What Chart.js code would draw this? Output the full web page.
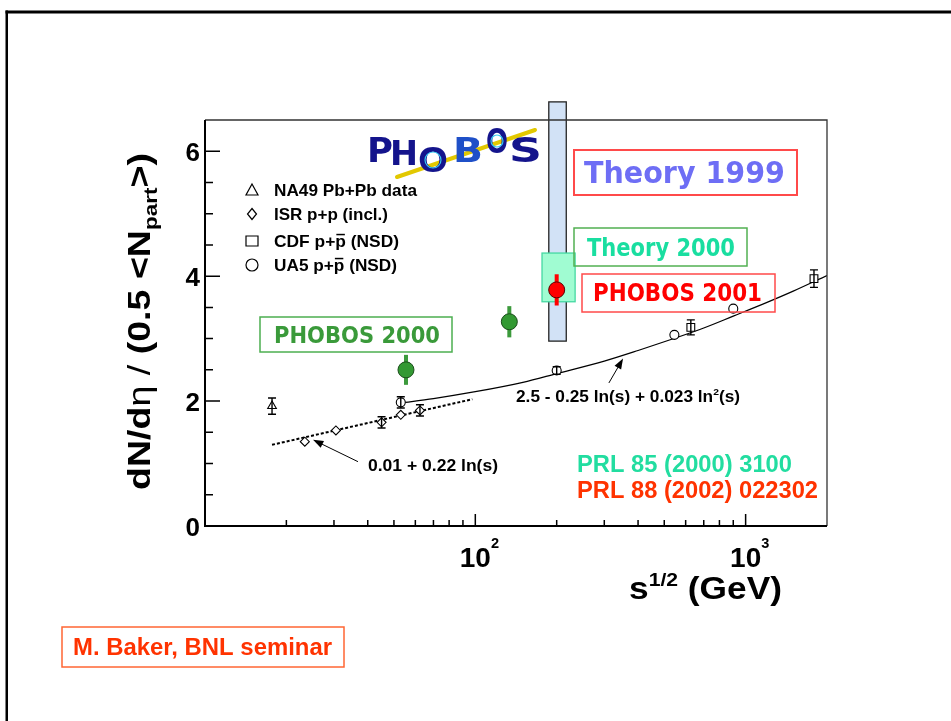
<!DOCTYPE html>
<html>
<head>
<meta charset="utf-8">
<script src="https://cdn.jsdelivr.net/npm/chart.js@4.4.1/dist/chart.umd.min.js"></script>
<style>
  html, body { margin: 0; padding: 0; background: #fff; }
  canvas { display: block; }
</style>
</head>
<body>
<canvas id="chartCanvas" width="951" height="721"></canvas>
<script>
// values (x = sqrt(s) in GeV, y = dN/deta per participant pair)
const na49X = [17.7], na49Y = [1.92], na49Err = [0.13];
const isrX = [23.4, 30.5, 45.0, 53.0, 62.4];
const isrY = [1.35, 1.53, 1.66, 1.78, 1.85];
const isrErr = [0, 0, 0.09, 0, 0.09];
const cdfX = [627, 1790], cdfY = [3.18, 3.96], cdfErr = [0.12, 0.14];
const ua5X = [53, 200, 545, 900], ua5Y = [1.98, 2.49, 3.06, 3.48], ua5Err = [0.09, 0.06, 0, 0];
const phobos2000X = [55.4, 133.6], phobos2000Y = [2.50, 3.27], phobos2000Err = [0.24, 0.25];
const phobos2001X = [200], phobos2001Y = [3.78], phobos2001Err = [0.25];

// fit curves
const fitX = [53, 70, 100, 150, 200, 300, 400, 550, 700, 900, 1200, 1500, 2000];
const fitY = [1.97, 2.04, 2.15, 2.30, 2.44, 2.64, 2.81, 3.01, 3.17, 3.36, 3.58, 3.76, 4.01];
const dotX = [17.7, 97.5], dotY = [1.30, 2.03];

// theory bands: [low, high]
const theory1999X = [187, 217], theory1999Y = [2.96, 6.79];
const theory2000X = [176.5, 234], theory2000Y = [3.59, 4.37];

// axis ticks
const yMajor = [0, 2, 4, 6];
const yMinor = [0.5, 1, 1.5, 2.5, 3, 3.5, 4.5, 5, 5.5];
const xMajor = [100, 1000], xMajorExp = ['2', '3'];
const xMinor = [20, 30, 40, 50, 60, 70, 80, 90, 200, 300, 400, 500, 600, 700, 800, 900];

const SANS = 'Arial, "Liberation Sans", sans-serif';
const VERD = '"DejaVu Sans", Verdana, sans-serif';

function pts(xs, ys) { return xs.map((x, i) => ({ x: x, y: ys[i] })); }

// draws text made of pieces (sup / sub / overline), optionally squeezed to a width
function rich(ctx, parts, x, y, o) {
  const size = o.size, fam = o.family || SANS;
  const spec = { sup: [0.6, -0.42], hi: [0.52, -0.68], sub: [0.6, 0.24] };
  let w = 0;
  const items = parts.map(p => {
    const k = p[1] || '';
    const it = { t: p[0], k: k };
    it.px = size * (spec[k] ? spec[k][0] : 1);
    it.dy = spec[k] ? spec[k][1] * size : 0;
    it.wt = k === 'thin' ? 'normal' : 'bold';
    ctx.font = it.wt + ' ' + it.px + 'px ' + fam;
    it.x0 = w;
    it.w = ctx.measureText(it.t).width;
    w += it.w;
    return it;
  });
  const sx = o.width ? o.width / w : 1;
  ctx.save();
  ctx.translate(x, y);
  if (o.rotate) ctx.rotate(o.rotate);
  ctx.scale(sx, 1);
  const off = o.align === 'center' ? -w / 2 : o.align === 'right' ? -w : 0;
  ctx.fillStyle = o.color || '#000';
  ctx.textAlign = 'left';
  ctx.textBaseline = 'alphabetic';
  items.forEach(it => {
    ctx.font = it.wt + ' ' + it.px + 'px ' + fam;
    ctx.fillText(it.t, off + it.x0, it.dy);
    if (it.k === 'bar') ctx.fillRect(off + it.x0 + 1, -size * 0.8, it.w - 2, 1.5);
  });
  ctx.restore();
}

function box(ctx, x0, y0, x1, y1, color, lw) {
  ctx.save();
  ctx.strokeStyle = color;
  ctx.lineWidth = lw || 1.5;
  ctx.strokeRect(x0, y0, x1 - x0, y1 - y0);
  ctx.restore();
}

function marker(ctx, kind, x, y) {
  ctx.save();
  ctx.strokeStyle = '#000';
  ctx.lineWidth = 1.2;
  ctx.beginPath();
  if (kind === 'tri') {
    ctx.moveTo(x, y - 6); ctx.lineTo(x + 6, y + 5); ctx.lineTo(x - 6, y + 5); ctx.closePath();
  } else if (kind === 'dia') {
    ctx.moveTo(x, y - 5.5); ctx.lineTo(x + 4.5, y); ctx.lineTo(x, y + 5.5); ctx.lineTo(x - 4.5, y); ctx.closePath();
  } else if (kind === 'sq') {
    ctx.rect(x - 6, y - 5, 12, 10);
  } else {
    ctx.arc(x, y, 6, 0, Math.PI * 2);
  }
  ctx.stroke();
  ctx.restore();
}

function errBars(chart, xs, ys, es, color, lw, cap) {
  const ctx = chart.ctx, sx = chart.scales.x, sy = chart.scales.y;
  ctx.save();
  ctx.strokeStyle = color;
  ctx.lineWidth = lw;
  xs.forEach((x, i) => {
    if (!es[i]) return;
    const px = sx.getPixelForValue(x);
    const lo = sy.getPixelForValue(ys[i] - es[i]);
    const hi = sy.getPixelForValue(ys[i] + es[i]);
    ctx.beginPath();
    ctx.moveTo(px, lo); ctx.lineTo(px, hi);
    if (cap) {
      ctx.moveTo(px - cap, lo); ctx.lineTo(px + cap, lo);
      ctx.moveTo(px - cap, hi); ctx.lineTo(px + cap, hi);
    }
    ctx.stroke();
  });
  ctx.restore();
}

function arrow(chart, from, to) {
  const ctx = chart.ctx, sx = chart.scales.x, sy = chart.scales.y;
  const x0 = sx.getPixelForValue(from[0]), y0 = sy.getPixelForValue(from[1]);
  const x1 = sx.getPixelForValue(to[0]), y1 = sy.getPixelForValue(to[1]);
  const a = Math.atan2(y1 - y0, x1 - x0);
  ctx.save();
  ctx.strokeStyle = '#000';
  ctx.fillStyle = '#000';
  ctx.lineWidth = 1;
  ctx.beginPath();
  ctx.moveTo(x0, y0);
  ctx.lineTo(x1 - 8 * Math.cos(a), y1 - 8 * Math.sin(a));
  ctx.stroke();
  ctx.beginPath();
  ctx.moveTo(x1, y1);
  ctx.lineTo(x1 - 11 * Math.cos(a - 0.35), y1 - 11 * Math.sin(a - 0.35));
  ctx.lineTo(x1 - 11 * Math.cos(a + 0.35), y1 - 11 * Math.sin(a + 0.35));
  ctx.closePath();
  ctx.fill();
  ctx.restore();
}

function logo(ctx) {
  ctx.save();
  ctx.strokeStyle = '#e2c800';
  ctx.lineWidth = 4;
  ctx.lineCap = 'round';
  ctx.beginPath();
  ctx.moveTo(397, 177); ctx.lineTo(535, 130);
  ctx.stroke();
  ctx.restore();
  // letters placed one by one, like the hand drawn logo
  const letters = [
    ['P', 367, 162, 26, '#14148c'], ['H', 390, 165, 28, '#14148c'], ['O', 418, 172, 30, '#14148c'],
    ['B', 453, 162, 30, '#1f50c8'], ['O', 486, 153, 22, '#14148c'], ['S', 509, 162, 33, '#14148c']
  ];
  letters.forEach(l => rich(ctx, [[l[0]]], l[1], l[2], { size: 34, width: l[3], family: VERD, color: l[4] }));
  ctx.save();
  ctx.strokeStyle = '#36c8f0';
  ctx.lineWidth = 1.2;
  [[433, 160, 8], [497, 141, 6]].forEach(c => {
    ctx.beginPath(); ctx.arc(c[0], c[1], c[2], 0, Math.PI * 2); ctx.stroke();
  });
  ctx.restore();
}

const deco = {
  id: 'deco',
  beforeDraw(chart) {
    const ctx = chart.ctx;
    ctx.save();
    ctx.fillStyle = '#fff';
    ctx.fillRect(0, 0, chart.width, chart.height);
    ctx.restore();
  },
  beforeDatasetsDraw(chart) {
    const ctx = chart.ctx, sx = chart.scales.x, sy = chart.scales.y;
    // Theory 1999 band (goes over the top of the frame)
    let x0 = sx.getPixelForValue(theory1999X[0]), x1 = sx.getPixelForValue(theory1999X[1]);
    let y0 = sy.getPixelForValue(theory1999Y[1]), y1 = sy.getPixelForValue(theory1999Y[0]);
    ctx.save();
    ctx.fillStyle = '#d2e2f6';
    ctx.fillRect(x0, y0, x1 - x0, y1 - y0);
    ctx.strokeStyle = '#222';
    ctx.lineWidth = 1.3;
    ctx.strokeRect(x0, y0, x1 - x0, y1 - y0);
    // Theory 2000 box
    x0 = sx.getPixelForValue(theory2000X[0]); x1 = sx.getPixelForValue(theory2000X[1]);
    y0 = sy.getPixelForValue(theory2000Y[1]); y1 = sy.getPixelForValue(theory2000Y[0]);
    ctx.fillStyle = '#a0fcd2';
    ctx.fillRect(x0, y0, x1 - x0, y1 - y0);
    ctx.strokeStyle = '#45d8a2';
    ctx.lineWidth = 1.3;
    ctx.strokeRect(x0, y0, x1 - x0, y1 - y0);
    ctx.restore();
    errBars(chart, phobos2000X, phobos2000Y, phobos2000Err, '#3c9a3c', 4, 0);
    errBars(chart, phobos2001X, phobos2001Y, phobos2001Err, '#ff0000', 4, 0);
  },
  afterDatasetsDraw(chart) {
    const ctx = chart.ctx, sx = chart.scales.x, sy = chart.scales.y;
    const a = chart.chartArea;

    errBars(chart, na49X, na49Y, na49Err, '#000', 1.4, 4);
    errBars(chart, isrX, isrY, isrErr, '#000', 1.4, 4);
    errBars(chart, cdfX, cdfY, cdfErr, '#000', 1.4, 4);
    errBars(chart, ua5X, ua5Y, ua5Err, '#000', 1.4, 4);

    // frame + axes
    ctx.save();
    ctx.strokeStyle = '#333';
    ctx.lineWidth = 1.3;
    ctx.beginPath();
    ctx.moveTo(a.left, a.top); ctx.lineTo(a.right, a.top); ctx.lineTo(a.right, a.bottom);
    ctx.stroke();
    ctx.strokeStyle = '#000';
    ctx.lineWidth = 2;
    ctx.beginPath();
    ctx.moveTo(a.left, a.top); ctx.lineTo(a.left, a.bottom); ctx.lineTo(a.right, a.bottom);
    ctx.stroke();
    ctx.lineWidth = 1.5;
    ctx.beginPath();
    yMajor.forEach(v => { const p = sy.getPixelForValue(v); ctx.moveTo(a.left, p); ctx.lineTo(a.left + 15, p); });
    yMinor.forEach(v => { const p = sy.getPixelForValue(v); ctx.moveTo(a.left, p); ctx.lineTo(a.left + 8, p); });
    xMajor.forEach(v => { const p = sx.getPixelForValue(v); ctx.moveTo(p, a.bottom); ctx.lineTo(p, a.bottom - 12); });
    xMinor.forEach(v => { const p = sx.getPixelForValue(v); ctx.moveTo(p, a.bottom); ctx.lineTo(p, a.bottom - 6); });
    ctx.stroke();
    ctx.restore();

    // tick labels
    yMajor.forEach(v => {
      rich(ctx, [[String(v)]], a.left - 5, sy.getPixelForValue(v) + 9.5, { size: 26, align: 'right' });
    });
    xMajor.forEach((v, i) => {
      ctx.font = 'bold 28px ' + SANS;
      const w = ctx.measureText('10').width;
      rich(ctx, [['10'], [xMajorExp[i], 'hi']], sx.getPixelForValue(v) - w / 2, 567, { size: 28 });
    });

    // axis titles
    rich(ctx, [['s'], ['1/2', 'sup'], [' (GeV)']], 629, 599, { size: 31, width: 153 });
    rich(ctx, [['dN/d'], ['\u03b7', 'thin'], [' / ', 'thin'], ['(0.5 <N'], ['part', 'sub'], ['>)']],
      150, 490, { size: 31, width: 337, rotate: -Math.PI / 2 });

    // legend
    const leg = [
      ['tri', [['NA49 Pb+Pb data']], 196, 143],
      ['dia', [['ISR p+p (incl.)']], 220, 114],
      ['sq', [['CDF p+'], ['p', 'bar'], [' (NSD)']], 247, 125],
      ['circ', [['UA5 p+'], ['p', 'bar'], [' (NSD)']], 271, 123]
    ];
    leg.forEach(l => {
      marker(ctx, l[0], 252, l[2] - 6);
      rich(ctx, l[1], 274, l[2], { size: 16.5, width: l[3] });
    });

    // fit labels and arrows
    rich(ctx, [['0.01 + 0.22 ln(s)']], 368, 471, { size: 16.5, width: 130 });
    rich(ctx, [['2.5 - 0.25 ln(s) + 0.023 ln'], ['2', 'sup'], ['(s)']], 516, 402, { size: 16.5, width: 224 });
    arrow(chart, [36.8, 1.03], [25.1, 1.38]);
    arrow(chart, [312, 2.29], [352, 2.68]);

    // boxed labels
    box(ctx, 574, 150, 797, 195, '#ff4a4a', 2);
    rich(ctx, [['Theory 1999']], 584, 183, { size: 30, width: 201, family: VERD, color: '#6e6ef5' });
    box(ctx, 574, 228, 747, 266, '#52b052', 1.5);
    rich(ctx, [['Theory 2000']], 587, 256, { size: 24, width: 148, family: VERD, color: '#19dea0' });
    box(ctx, 582, 274, 775, 312, '#ff4a4a', 1.5);
    rich(ctx, [['PHOBOS 2001']], 593, 301, { size: 24, width: 169, family: VERD, color: '#ff0000' });
    box(ctx, 260, 317, 452, 352, '#4caf50', 1.5);
    rich(ctx, [['PHOBOS 2000']], 274, 343, { size: 23, width: 166, family: VERD, color: '#3a9a3a' });

    rich(ctx, [['PRL 85 (2000) 3100']], 577, 472, { size: 23, width: 215, color: '#22dda0' });
    rich(ctx, [['PRL 88 (2002) 022302']], 577, 498, { size: 23, width: 241, color: '#ff3300' });

    box(ctx, 62, 627, 344, 667, '#ff6633', 1.5);
    rich(ctx, [['M. Baker, BNL seminar']], 73, 655, { size: 23, width: 259, color: '#ff3300' });

    logo(ctx);

    // page frame
    ctx.save();
    ctx.fillStyle = '#000';
    ctx.fillRect(5.5, 10.5, chart.width, 3);
    ctx.fillRect(5.5, 10.5, 2.5, chart.height);
    ctx.restore();
  }
};

const openPt = { backgroundColor: '#fff', borderColor: '#000', borderWidth: 1.1 };

new Chart(document.getElementById('chartCanvas').getContext('2d'), {
  type: 'scatter',
  data: {
    datasets: [
      { label: 'PHOBOS 2001', data: pts(phobos2001X, phobos2001Y), pointStyle: 'circle', pointRadius: 8,
        backgroundColor: '#ff0000', borderColor: '#5a0000', borderWidth: 1 },
      { label: 'PHOBOS 2000', data: pts(phobos2000X, phobos2000Y), pointStyle: 'circle', pointRadius: 8,
        backgroundColor: '#339933', borderColor: '#1b4d1b', borderWidth: 1 },
      Object.assign({ label: 'NA49 Pb+Pb data', data: pts(na49X, na49Y), pointStyle: 'triangle', pointRadius: 5 }, openPt),
      Object.assign({ label: 'ISR p+p (incl.)', data: pts(isrX, isrY), pointStyle: 'rectRot', pointRadius: 4.5 }, openPt),
      Object.assign({ label: 'CDF', data: pts(cdfX, cdfY), pointStyle: 'rect', pointRadius: 5.5 }, openPt),
      Object.assign({ label: 'UA5', data: pts(ua5X, ua5Y), pointStyle: 'circle', pointRadius: 4.5 }, openPt),
      { label: '2.5 - 0.25 ln(s) + 0.023 ln2(s)', data: pts(fitX, fitY), showLine: true, pointRadius: 0,
        borderColor: '#000', borderWidth: 1.2, cubicInterpolationMode: 'monotone' },
      { label: '0.01 + 0.22 ln(s)', data: pts(dotX, dotY), showLine: true, pointRadius: 0,
        borderColor: '#000', borderWidth: 2, borderDash: [3, 2] }
    ]
  },
  options: {
    responsive: false,
    animation: false,
    devicePixelRatio: 1,
    layout: { padding: { left: 205, top: 120, right: 124, bottom: 195 } },
    plugins: { legend: { display: false }, tooltip: { enabled: false } },
    scales: {
      x: { type: 'logarithmic', min: 10, max: 2000, display: false },
      y: { type: 'linear', min: 0, max: 6.5, display: false }
    }
  },
  plugins: [deco]
});
</script>
</body>
</html>
